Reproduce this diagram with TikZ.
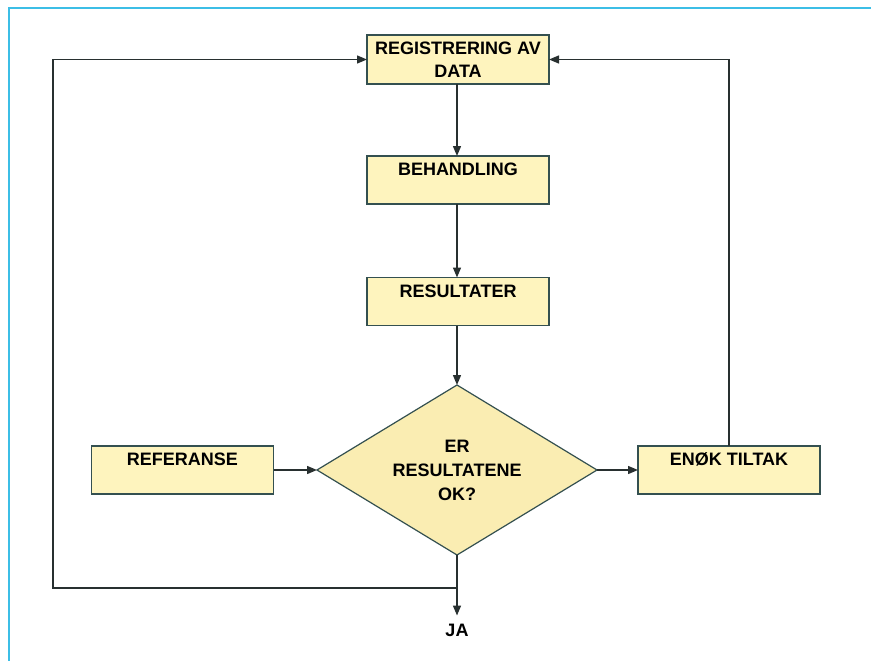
\documentclass[tikz,border=0pt]{standalone}
\usepackage{fontspec}
\setmainfont{Liberation Sans}
\usetikzlibrary{shapes.geometric,arrows.meta}
\definecolor{boxfill}{RGB}{254,244,190}
\definecolor{diafill}{RGB}{250,237,178}
\definecolor{edge}{RGB}{52,80,80}
\definecolor{wire}{RGB}{40,48,48}
\definecolor{frame}{RGB}{60,190,230}
\tikzset{
  stepbox/.style={draw=edge, line width=1.5pt, fill=boxfill, minimum width=182pt,
    minimum height=48pt, outer sep=0pt, inner xsep=4pt, inner ysep=7pt,
    font=\fontsize{18}{22}\selectfont\bfseries, text height=12.5pt, text depth=21.5pt},
  topbox/.style={draw=edge, line width=1.5pt, fill=boxfill, minimum width=182pt,
    minimum height=49pt, outer sep=0pt, align=center,
    font=\fontsize{18}{23}\selectfont\bfseries},
  decide/.style={draw=edge, line width=1.2pt, fill=diafill, shape=diamond, aspect=1.65,
    minimum width=280pt, minimum height=170pt, inner sep=0pt, outer sep=0pt, align=center,
    font=\fontsize{18}{24}\selectfont\bfseries},
  wireline/.style={draw=wire, line width=1.4pt},
  arr/.style={wireline, -{Triangle[length=10pt,width=8pt]}},
}
\begin{document}
\begin{tikzpicture}[x=1pt,y=-1pt]
\useasboundingbox (0,0) rectangle (871,661);
\fill[white] (0,0) rectangle (871,661);
\draw[frame, line width=1.6pt] (9,661) -- (9,8) -- (871,8);

\node[topbox] (reg) at (458,59.5) {REGISTRERING AV\\DATA};
\node[stepbox] (beh) at (458,180) {BEHANDLING};
\node[stepbox] (res) at (458,301.5) {RESULTATER};
\node[decide] (dia) at (457,470) {ER\\RESULTATENE\\OK?};
\node[stepbox] (ref) at (182.5,470) {REFERANSE};
\node[stepbox] (eno) at (729,470) {ENØK TILTAK};
\node[font=\fontsize{18}{20}\selectfont\bfseries, inner xsep=0pt, inner ysep=8pt] (ja) at (457,630) {JA};

\coordinate (jn) at (457,588);
\coordinate (lc) at (53,588);

\draw[arr] (reg.south -| dia.north) -- (beh.north -| dia.north);
\draw[arr] (beh.south -| dia.north) -- (res.north -| dia.north);
\draw[arr] (res.south -| dia.north) -- (dia.north);
\draw[arr] (ref.east) -- (dia.west);
\draw[arr] (dia.east) -- (eno.west);
\draw[arr] (eno.north) |- (reg.east);
\draw[arr] (dia.south) -- (ja.north);
\draw[arr] (jn) -- (lc) |- (reg.west);
\end{tikzpicture}
\end{document}
